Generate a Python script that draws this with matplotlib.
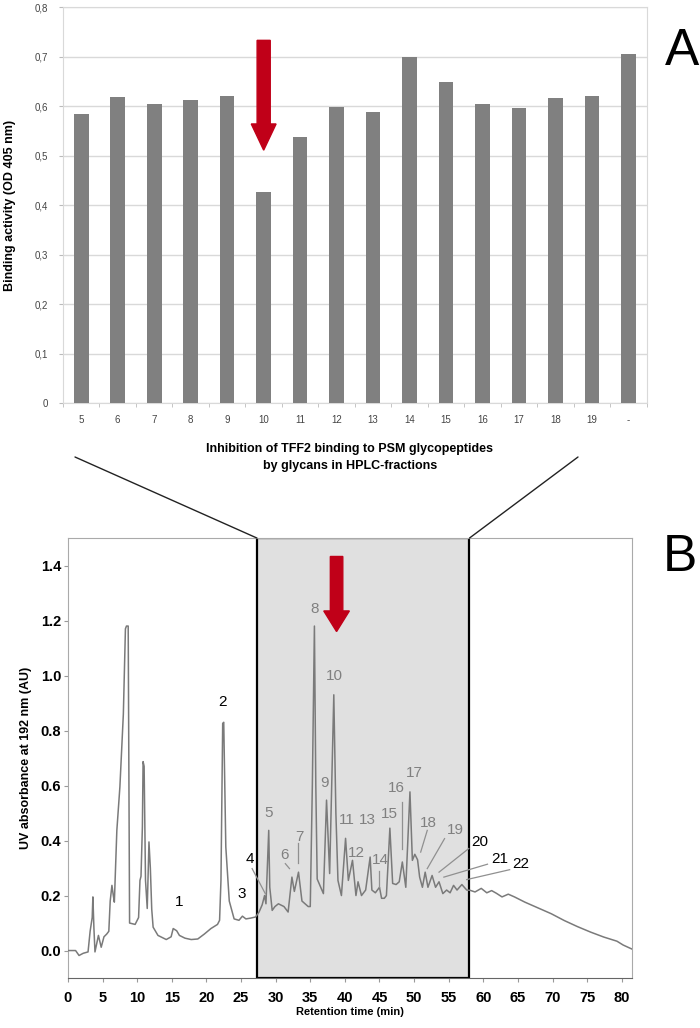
import numpy as np
import matplotlib
matplotlib.use("Agg")
import matplotlib.pyplot as plt
from matplotlib.patches import ConnectionPatch

plt.rcParams['font.family'] = ['Liberation Sans', 'DejaVu Sans']

# ---- panel A: binding activity per HPLC fraction
fractions = ['5', '6', '7', '8', '9', '10', '11', '12', '13', '14', '15', '16', '17', '18', '19', '-']
binding = [0.584, 0.618, 0.604, 0.613, 0.620, 0.427, 0.538, 0.599, 0.589, 0.700,
           0.648, 0.605, 0.597, 0.617, 0.620, 0.705]
a_yticks = [0, 0.1, 0.2, 0.3, 0.4, 0.5, 0.6, 0.7, 0.8]
a_yticklabels = ['0', '0,1', '0,2', '0,3', '0,4', '0,5', '0,6', '0,7', '0,8']

# ---- panel B: HPLC chromatogram
rt = [0.0, 1.1, 1.6, 2.2, 2.9, 3.2, 3.5, 3.6, 3.75, 3.9, 4.4, 4.8, 5.2, 5.6, 5.9,
      6.1, 6.35, 6.55, 6.7, 7.06, 7.5, 8.0, 8.3, 8.45, 8.7, 8.9, 9.7, 10.2, 10.4,
      10.55, 10.75, 10.85, 11.0, 11.2, 11.45, 11.7, 11.9, 12.1, 12.3, 13.0, 14.2,
      14.9, 15.2, 15.7, 16.1, 16.9, 17.8, 18.75, 19.7, 20.65, 21.6, 21.9, 22.1,
      22.35, 22.5, 22.8, 23.3, 24.0, 24.7, 25.2, 25.7, 26.4, 27.1, 27.6, 28.05,
      28.4, 28.6, 29.0, 29.15, 29.5, 29.9, 30.4, 31.2, 31.8, 32.35, 32.7, 33.3,
      33.8, 34.25, 34.7, 35.0, 35.3, 35.6, 35.8, 36.0, 36.9, 37.35, 37.8, 38.1,
      38.4, 38.7, 39.0, 39.5, 40.1, 40.5, 41.1, 41.6, 41.9, 42.4, 43.0, 43.65,
      43.9, 44.4, 45.0, 45.3, 45.7, 46.0, 46.5, 46.9, 47.4, 47.85, 48.3, 48.8,
      49.4, 49.75, 50.1, 50.5, 50.8, 51.2, 51.6, 52.0, 52.6, 53.1, 53.6, 54.15,
      54.7, 55.2, 55.7, 56.2, 56.9, 57.6, 58.1, 58.8, 59.7, 60.5, 61.2, 61.9,
      62.7, 63.6, 64.5, 66.0, 67.9, 69.8, 71.7, 73.6, 75.5, 77.4, 79.3, 80.2, 81.5]
uv = [0.0, 0.0, -0.018, -0.01, -0.005, 0.07, 0.12, 0.195, 0.08, -0.005, 0.055,
      0.012, 0.05, 0.06, 0.07, 0.18, 0.237, 0.2, 0.176, 0.437, 0.595, 0.86, 1.17,
      1.18, 1.18, 0.10, 0.095, 0.12, 0.255, 0.27, 0.45, 0.687, 0.67, 0.255, 0.153,
      0.395, 0.30, 0.15, 0.085, 0.055, 0.04, 0.05, 0.08, 0.072, 0.055, 0.045, 0.04,
      0.042, 0.06, 0.08, 0.095, 0.11, 0.255, 0.826, 0.83, 0.377, 0.18, 0.115, 0.11,
      0.125, 0.115, 0.118, 0.122, 0.14, 0.166, 0.2, 0.17, 0.437, 0.23, 0.146, 0.16,
      0.17, 0.16, 0.14, 0.267, 0.215, 0.285, 0.18, 0.17, 0.16, 0.16, 0.6, 1.18,
      0.6, 0.26, 0.207, 0.547, 0.28, 0.6, 0.93, 0.5, 0.255, 0.2, 0.408, 0.255,
      0.328, 0.2, 0.25, 0.2, 0.22, 0.34, 0.22, 0.21, 0.23, 0.19, 0.19, 0.2, 0.445,
      0.244, 0.24, 0.25, 0.322, 0.23, 0.577, 0.328, 0.35, 0.33, 0.267, 0.23, 0.285,
      0.23, 0.273, 0.23, 0.25, 0.207, 0.22, 0.21, 0.237, 0.22, 0.24, 0.22, 0.219,
      0.213, 0.226, 0.21, 0.218, 0.208, 0.195, 0.205, 0.195, 0.176, 0.155, 0.134,
      0.109, 0.087, 0.067, 0.049, 0.034, 0.02, 0.005]

# peak labels: text, x, y
peak_names = ['1', '2', '3', '4', '5', '6', '7', '8', '9', '10', '11',
              '12', '13', '14', '15', '16', '17', '18', '19', '20', '21', '22']
peak_x = [16.0, 22.3, 25.1, 26.3, 29.05, 31.3, 33.5, 35.6, 37.0, 38.5, 40.3,
          41.7, 43.3, 45.1, 46.4, 47.5, 50.0, 52.1, 56.0, 59.5, 62.3, 65.4]
peak_y = [0.176, 0.905, 0.204, 0.334, 0.50, 0.349, 0.413, 1.242, 0.611, 1.0, 0.474,
          0.356, 0.476, 0.328, 0.498, 0.59, 0.644, 0.462, 0.437, 0.395, 0.334, 0.316]
# leader lines (x0, y0, x1, y1)
leaders = [(26.6, 0.298, 28.5, 0.207), (31.4, 0.316, 32.0, 0.298),
           (33.2, 0.39, 33.2, 0.32), (45.0, 0.29, 45.0, 0.23),
           (48.3, 0.54, 48.3, 0.37), (51.9, 0.437, 50.95, 0.358),
           (54.4, 0.407, 51.9, 0.298), (57.9, 0.371, 53.6, 0.285),
           (60.6, 0.314, 54.3, 0.267), (63.8, 0.294, 57.6, 0.258)]
box_start, box_end = 27.3, 58.0

fig = plt.figure(figsize=(7, 10.28), dpi=100)

# ---------------- A
ax_a = fig.add_axes([0.09, 0.608, 0.834, 0.385])
xpos = np.arange(len(fractions))
ax_a.bar(xpos, binding, width=0.4, color='#808080', zorder=3)
ax_a.set_xlim(-0.5, len(fractions) - 0.5)
ax_a.set_ylim(0, 0.8)
ax_a.set_yticks(a_yticks)
ax_a.set_yticklabels(a_yticklabels)
ax_a.set_xticks(xpos)
ax_a.set_xticklabels(fractions)
ax_a.set_xticks(np.arange(len(fractions) + 1) - 0.5, minor=True)
ax_a.tick_params(axis='x', which='major', length=0, pad=9, labelsize=7, colors='#444444')
ax_a.tick_params(axis='x', which='minor', length=3, color='#bbbbbb')
ax_a.tick_params(axis='y', length=3, color='#bbbbbb', labelsize=7, labelcolor='#444444', pad=8)
ax_a.grid(axis='y', color='#d9d9d9', lw=1, zorder=0)
for s in ax_a.spines.values():
    s.set_color('#d9d9d9')
ax_a.set_ylabel('Binding activity (OD 405 nm)', fontsize=9, fontweight='bold', labelpad=13)
ax_a.arrow(5, 0.733, 0, -0.222, width=0.36, head_width=0.68, head_length=0.053,
           length_includes_head=True, color='#c00018', zorder=5)

fig.text(0.5, 0.555, 'Inhibition of TFF2 binding to PSM glycopeptides\nby glycans in HPLC-fractions',
         ha='center', va='center', fontsize=9, fontweight='bold', linespacing=1.5)

# ---------------- B
ax_b = fig.add_axes([0.0971, 0.0486, 0.806, 0.428])
ax_b.axvspan(box_start, box_end, facecolor='#e0e0e0', edgecolor='black', lw=1.6, zorder=1)
ax_b.plot(rt, uv, color='#7a7a7a', lw=1.1, zorder=3)
ax_b.set_xlim(0, 81.5)
ax_b.set_ylim(-0.1, 1.5)
ax_b.set_xticks(np.arange(0, 81, 5))
ax_b.set_yticks(np.arange(0, 1.41, 0.2))
ax_b.yaxis.set_major_formatter(matplotlib.ticker.FormatStrFormatter('%.1f'))
for lab in ax_b.get_xticklabels() + ax_b.get_yticklabels():
    lab.set_fontweight('bold')
ax_b.tick_params(axis='x', labelsize=10.5, length=3, color='#999999', pad=6)
ax_b.tick_params(axis='y', labelsize=10.5, length=3, color='#999999', pad=2)
for s in ax_b.spines.values():
    s.set_color('#aaaaaa')
ax_b.spines['left'].set_linestyle((0, (2, 1)))
ax_b.spines['bottom'].set_color('#666666')
ax_b.set_ylabel('UV absorbance at 192 nm (AU)', fontsize=9, fontweight='bold', labelpad=6)
ax_b.set_xlabel('Retention time (min)', fontsize=8, fontweight='bold', labelpad=2)

for name, x, y in zip(peak_names, peak_x, peak_y):
    inside = box_start < x < box_end
    ax_b.text(x, y, name, ha='center', va='center', fontsize=11,
              color='#808080' if inside else 'black', zorder=4)
for x0, y0, x1, y1 in leaders:
    ax_b.plot([x0, x1], [y0, y1], color='#909090', lw=0.9, zorder=4)

ax_b.arrow(38.8, 1.433, 0, -0.273, width=1.8, head_width=3.7, head_length=0.075,
           length_includes_head=True, color='#c00018', zorder=5)

# zoom connector lines from A to the shaded box
for bx, fx in [(box_start, 75), (box_end, 578)]:
    con = ConnectionPatch(xyA=(bx, 1.5), coordsA=ax_b.transData,
                          xyB=(fx / 700, 1 - 457 / 1028), coordsB=fig.transFigure,
                          color='#222222', lw=1.0)
    fig.add_artist(con)

fig.text(0.974, 0.95, 'A', fontsize=37, ha='center', va='center')
fig.text(0.972, 0.458, 'B', fontsize=37, ha='center', va='center')

fig.savefig('out.png', dpi=100)
